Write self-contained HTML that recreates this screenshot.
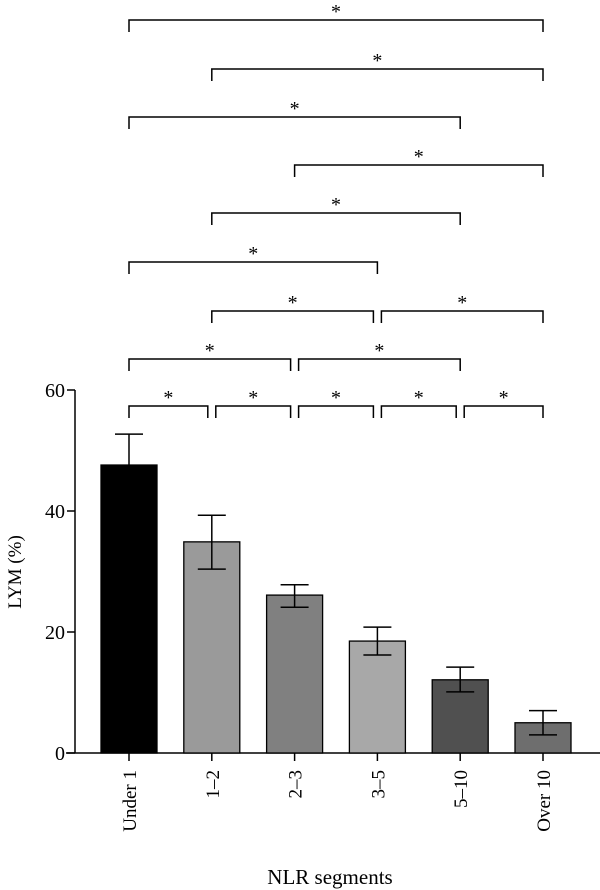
<!DOCTYPE html>
<html><head><meta charset="utf-8"><style>
html,body{margin:0;padding:0;background:#fff;}
svg{display:block;font-family:"Liberation Serif",serif;}
</style></head><body>
<svg id="chart" width="600" height="890" viewBox="0 0 600 890"></svg>
<script>
const categories = ["Under 1","1\u20132","2\u20133","3\u20135","5\u201310","Over 10"];
const means = [47.6, 34.9, 26.1, 18.5, 12.1, 5.0];
const errUpper = [52.7, 39.3, 27.8, 20.8, 14.2, 7.0];
const errLower = [42.5, 30.4, 24.1, 16.2, 10.1, 3.0];
const barColors = ["#000000","#9a9a9a","#808080","#a8a8a8","#505050","#6e6e6e"];
const yTicks = [0, 20, 40, 60];
const comparisons = [[0,1,0],[1,2,0],[2,3,0],[3,4,0],[4,5,0],
  [0,2,1],[2,4,1],[1,3,2],[3,5,2],[0,3,3],[1,4,4],[2,5,5],[0,4,6],[1,5,7],[0,5,8]];

const NS="http://www.w3.org/2000/svg";
const svg=document.getElementById('chart');
const x0=75, y0=753, pxPerUnit=(753-390)/60;
const yS=v=>y0-v*pxPerUnit;
const xS=i=>129+i*82.8;
const barW=56;
function mk(t,a,p){const e=document.createElementNS(NS,t);for(const k in a)e.setAttribute(k,a[k]);(p||svg).appendChild(e);return e;}

// axes
const ya=mk('line',{x1:x0,y1:yS(60),x2:x0,y2:y0,stroke:'#000','stroke-width':1.5});


const xa=mk('line',{x1:x0-9,y1:y0,x2:600,y2:y0,stroke:'#000','stroke-width':1.5});


yTicks.forEach(v=>{
  const t=mk('line',{x1:x0-8,y1:yS(v),x2:x0,y2:yS(v),stroke:'#000','stroke-width':1.5});
  
  
  const l=mk('text',{x:x0-10,y:yS(v)+7,'text-anchor':'end','font-size':20});
  l.textContent=v;
  
  
});
// bars
categories.forEach((c,i)=>{
  const cx=xS(i);
  const b=mk('rect',{x:cx-barW/2,y:yS(means[i]),width:barW,height:y0-yS(means[i]),fill:barColors[i],stroke:'#000','stroke-width':1.3});
  
  
  const g=mk('g',{stroke:'#000','stroke-width':1.5});
  
  
  mk('line',{x1:cx,y1:yS(errUpper[i]),x2:cx,y2:yS(errLower[i])},g);
  mk('line',{x1:cx-14,y1:yS(errUpper[i]),x2:cx+14,y2:yS(errUpper[i])},g);
  mk('line',{x1:cx-14,y1:yS(errLower[i]),x2:cx+14,y2:yS(errLower[i])},g);
  const tk=mk('line',{x1:cx,y1:y0,x2:cx,y2:y0+8,stroke:'#000','stroke-width':1.5});
  
  
  const l=mk('text',{x:0,y:0,'text-anchor':'end','font-size':19,transform:`translate(${cx+7},${y0+17}) rotate(-90)`});
  l.textContent=c;
  
  
});
// brackets
const rowY=[406,359,311,262,213,165,117,69,20];
comparisons.forEach(([a,b,r])=>{
  const same=comparisons.filter(c=>c[2]===r);
  const leftShared=same.some(c=>c[1]===a), rightShared=same.some(c=>c[0]===b);
  const xa1=xS(a)+(leftShared?4:0), xb1=xS(b)-(rightShared?4:0);
  const y=rowY[r];
  const p=mk('path',{d:`M${xa1},${y+12}V${y}H${xb1}V${y+12}`,fill:'none',stroke:'#000','stroke-width':1.5});
  
  
  const s=mk('text',{x:(xa1+xb1)/2,y:y-2,'text-anchor':'middle','font-size':20});
  s.textContent='*';
  
  
});
const yt=mk('text',{x:0,y:0,'text-anchor':'middle','font-size':19,transform:'translate(21,572) rotate(-90)'});
yt.textContent='LYM (%)';


const xt=mk('text',{x:330,y:884,'text-anchor':'middle','font-size':21});
xt.textContent='NLR segments';


</script>
</body></html>
